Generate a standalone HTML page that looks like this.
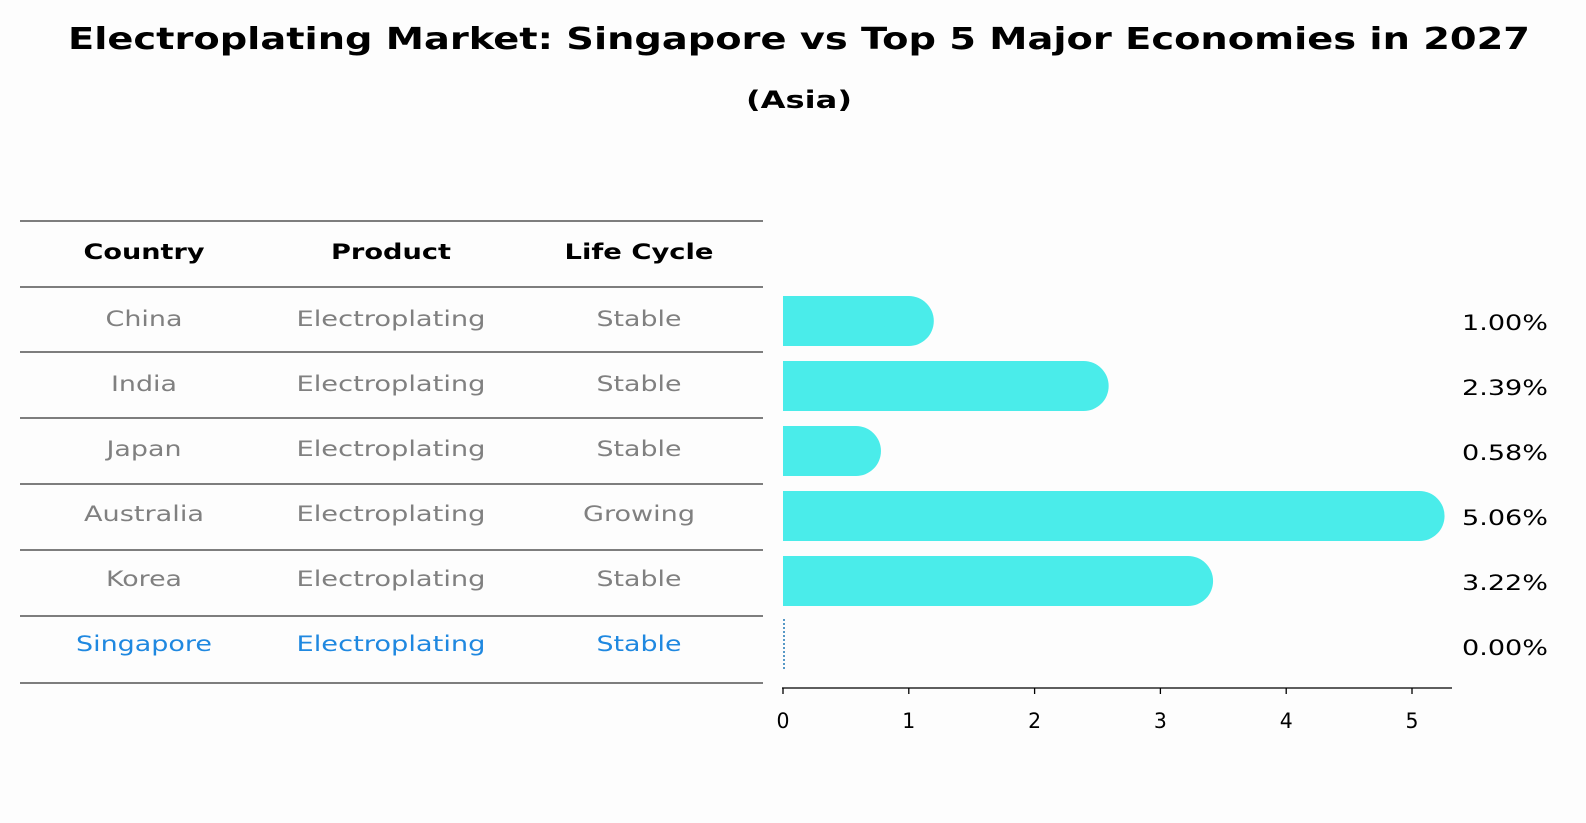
<!DOCTYPE html>
<html><head><meta charset="utf-8"><style>
html,body{margin:0;padding:0;background:#fdfdfd;overflow:hidden;}
svg{display:block;font-family:"DejaVu Sans","Liberation Sans",sans-serif;}
</style></head><body>
<svg id="c" width="1586" height="823" viewBox="0 0 1586 823">
<text x="799" y="49" text-anchor="middle" font-size="30" font-weight="bold" textLength="1462" lengthAdjust="spacingAndGlyphs">Electroplating Market: Singapore vs Top 5 Major Economies in 2027</text>
<text x="799" y="108" text-anchor="middle" font-size="24" font-weight="bold" textLength="106" lengthAdjust="spacingAndGlyphs">(Asia)</text>
<g id="table"></g>
<g id="bars"></g>
</svg>
<script>
const countries=["China","India","Japan","Australia","Korea","Singapore"];
const products=["Electroplating","Electroplating","Electroplating","Electroplating","Electroplating","Electroplating"];
const lifecycle=["Stable","Stable","Stable","Growing","Stable","Stable"];
const values=[1.00,2.39,0.58,5.06,3.22,0.00];
const ticks=[0,1,2,3,4,5];
const NS="http://www.w3.org/2000/svg";
const W={"Country":121,"Product":120,"Life Cycle":149,"China":77,"India":66,"Japan":75,"Australia":120,"Korea":76,"Singapore":136,"Electroplating":189,"Stable":85,"Growing":112};
function mk(p,t,a,txt){const e=document.createElementNS(NS,t);for(const k in a)e.setAttribute(k,a[k]);if(txt!=null)e.textContent=txt;p.appendChild(e);return e;}
function fit(e,s){if(W[s]){e.setAttribute('textLength',W[s]);e.setAttribute('lengthAdjust','spacingAndGlyphs');}}
const T=document.getElementById('table'),B=document.getElementById('bars');
const lines=[221,287,352,418,484,550,616,683];
lines.forEach((y)=>{const l=mk(T,'line',{x1:20,x2:763,y1:y,y2:y,stroke:'#000','stroke-width':1});

});
const cx=[144,391,639];
["Country","Product","Life Cycle"].forEach((h,i)=>{const t=mk(T,'text',{x:cx[i],y:259,'text-anchor':'middle','font-size':21,'font-weight':'bold'},h);
fit(t,h);

});
const xs=v=>783+v*125.8;
const rowY=i=>321+i*65;
countries.forEach((c,i)=>{
 const col=c==="Singapore"?'#1f88e0':'#808080';
 [c,products[i],lifecycle[i]].forEach((s,j)=>{const t=mk(T,'text',{x:cx[j],y:rowY(i)+5,'text-anchor':'middle','font-size':21,fill:col},s);
 fit(t,s);
 
 });
 const y=rowY(i),v=values[i];
 if(v>0){
  const g=mk(B,'g',{});
  
  
  mk(g,'rect',{x:783,y:y-25,width:xs(v)-783,height:50,fill:'#4aecea'});
  mk(g,'circle',{cx:xs(v),cy:y,r:25,fill:'#4aecea'});
 } else {
  const l=mk(B,'line',{x1:784,x2:784,y1:y-27,y2:y+25,stroke:'#1f77b4','stroke-width':1.5,'stroke-dasharray':'2,2'});
  
  
 }
 const lb=mk(B,'text',{x:1548,y:y+9,'text-anchor':'end','font-size':21,textLength:86,lengthAdjust:'spacingAndGlyphs'},v.toFixed(2)+'%');
 
 
});
const ax=mk(B,'line',{x1:782,x2:1452,y1:688,y2:688,stroke:'#000','stroke-width':1.3});


ticks.forEach(t=>{mk(B,'line',{x1:xs(t),x2:xs(t),y1:688,y2:694,stroke:'#000','stroke-width':1.3});
 const e=mk(B,'text',{x:xs(t),y:728,'text-anchor':'middle','font-size':21,textLength:13,lengthAdjust:'spacingAndGlyphs'},t);
 
 });
</script>
</body></html>
